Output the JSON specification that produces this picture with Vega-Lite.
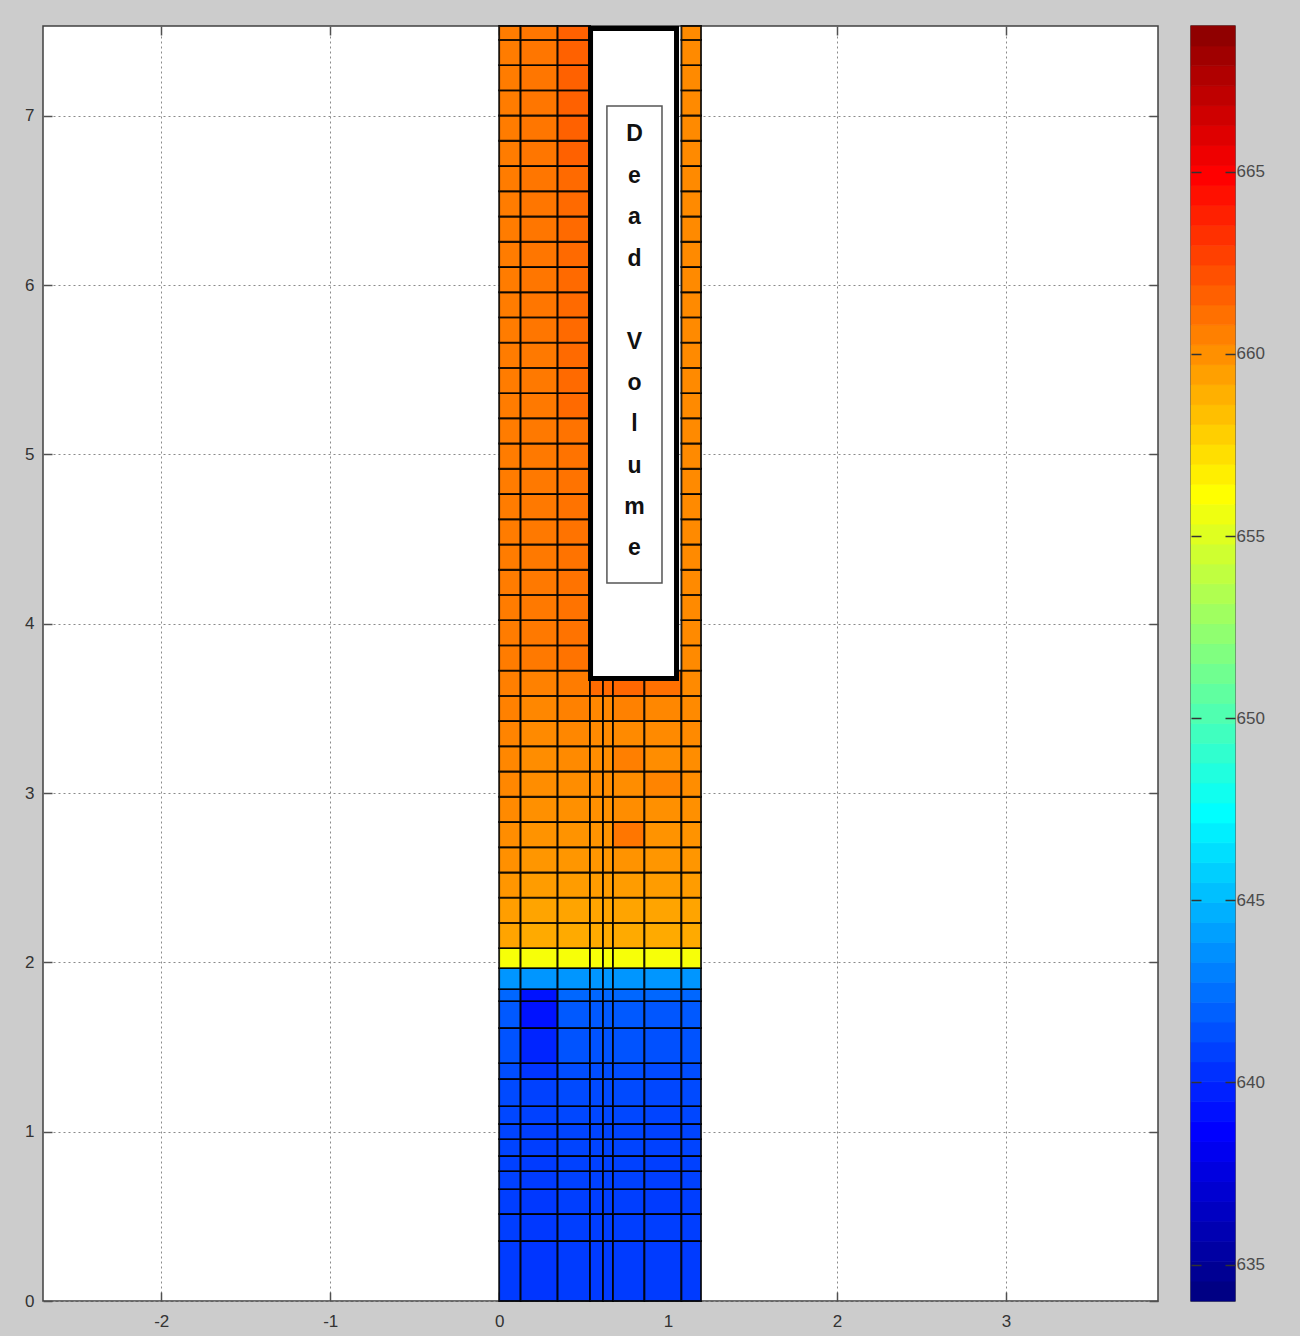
{
  "$schema": "https://vega.github.io/schema/vega-lite/v6.json",
  "background": "#cccccc",
  "padding": {"left": 12, "top": 24, "right": 25, "bottom": 5},
  "spacing": 29,
  "datasets": {
    "cols": [
      {"col": "c0", "x0": 0, "x1": 0.127},
      {"col": "c1", "x0": 0.127, "x1": 0.346},
      {"col": "c2", "x0": 0.346, "x1": 0.538},
      {"col": "c3", "x0": 0.538, "x1": 0.615},
      {"col": "c4", "x0": 0.615, "x1": 0.674},
      {"col": "c5", "x0": 0.674, "x1": 0.86},
      {"col": "c6", "x0": 0.86, "x1": 1.079},
      {"col": "c7", "x0": 1.079, "x1": 1.195}
    ],
    "cells": [
      {"y0": 0, "y1": 0.354, "c0": 640.4, "c1": 640.2, "c2": 640.4, "c3": 640.4, "c4": 640.4, "c5": 640.4, "c6": 640.4, "c7": 640.4},
      {"y0": 0.354, "y1": 0.514, "c0": 640.5, "c1": 640.3, "c2": 640.5, "c3": 640.5, "c4": 640.5, "c5": 640.5, "c6": 640.5, "c7": 640.5},
      {"y0": 0.514, "y1": 0.661, "c0": 640.5, "c1": 640.3, "c2": 640.5, "c3": 640.5, "c4": 640.5, "c5": 640.5, "c6": 640.4, "c7": 640.5},
      {"y0": 0.661, "y1": 0.767, "c0": 640.6, "c1": 640.4, "c2": 640.6, "c3": 640.6, "c4": 640.6, "c5": 640.6, "c6": 640.5, "c7": 640.6},
      {"y0": 0.767, "y1": 0.856, "c0": 640.6, "c1": 640.4, "c2": 640.6, "c3": 640.6, "c4": 640.6, "c5": 640.6, "c6": 640.5, "c7": 640.6},
      {"y0": 0.856, "y1": 0.956, "c0": 640.7, "c1": 640.5, "c2": 640.7, "c3": 640.7, "c4": 640.7, "c5": 640.7, "c6": 640.6, "c7": 640.7},
      {"y0": 0.956, "y1": 1.045, "c0": 640.7, "c1": 640.5, "c2": 640.7, "c3": 640.7, "c4": 640.7, "c5": 640.7, "c6": 640.6, "c7": 640.7},
      {"y0": 1.045, "y1": 1.151, "c0": 640.8, "c1": 640.6, "c2": 640.8, "c3": 640.8, "c4": 640.8, "c5": 640.8, "c6": 640.7, "c7": 640.8},
      {"y0": 1.151, "y1": 1.311, "c0": 640.9, "c1": 640.6, "c2": 640.9, "c3": 640.9, "c4": 640.9, "c5": 640.9, "c6": 640.8, "c7": 640.9},
      {"y0": 1.311, "y1": 1.405, "c0": 641.0, "c1": 640.2, "c2": 641.0, "c3": 641.0, "c4": 641.0, "c5": 641.0, "c6": 640.9, "c7": 641.0},
      {"y0": 1.405, "y1": 1.612, "c0": 641.2, "c1": 639.6, "c2": 641.2, "c3": 641.2, "c4": 641.2, "c5": 641.2, "c6": 641.1, "c7": 641.2},
      {"y0": 1.612, "y1": 1.771, "c0": 641.4, "c1": 639.0, "c2": 641.4, "c3": 641.4, "c4": 641.4, "c5": 641.4, "c6": 641.3, "c7": 641.4},
      {"y0": 1.771, "y1": 1.842, "c0": 641.9, "c1": 639.0, "c2": 641.9, "c3": 641.9, "c4": 641.9, "c5": 641.9, "c6": 641.9, "c7": 641.9},
      {"y0": 1.842, "y1": 1.966, "c0": 643.5, "c1": 643.5, "c2": 643.5, "c3": 643.5, "c4": 643.5, "c5": 643.5, "c6": 643.5, "c7": 643.5},
      {"y0": 1.966, "y1": 2.084, "c0": 655.6, "c1": 655.6, "c2": 655.6, "c3": 655.6, "c4": 655.6, "c5": 655.6, "c6": 655.6, "c7": 655.6},
      {"y0": 2.084, "y1": 2.233, "c0": 659.0, "c1": 658.8, "c2": 658.8, "c3": 658.8, "c4": 658.8, "c5": 658.8, "c6": 658.8, "c7": 658.8},
      {"y0": 2.233, "y1": 2.382, "c0": 659.2, "c1": 659.0, "c2": 659.0, "c3": 659.0, "c4": 659.0, "c5": 659.0, "c6": 659.0, "c7": 659.0},
      {"y0": 2.382, "y1": 2.531, "c0": 659.5, "c1": 659.3, "c2": 659.3, "c3": 659.3, "c4": 659.3, "c5": 659.3, "c6": 659.3, "c7": 659.3},
      {"y0": 2.531, "y1": 2.68, "c0": 659.7, "c1": 659.5, "c2": 659.5, "c3": 659.5, "c4": 659.5, "c5": 659.6, "c6": 659.5, "c7": 659.5},
      {"y0": 2.68, "y1": 2.829, "c0": 659.8, "c1": 659.6, "c2": 659.6, "c3": 659.6, "c4": 659.6, "c5": 660.6, "c6": 659.6, "c7": 659.6},
      {"y0": 2.829, "y1": 2.978, "c0": 659.9, "c1": 659.7, "c2": 659.7, "c3": 659.7, "c4": 659.7, "c5": 659.8, "c6": 659.7, "c7": 659.7},
      {"y0": 2.978, "y1": 3.127, "c0": 660.0, "c1": 659.8, "c2": 659.8, "c3": 659.8, "c4": 659.8, "c5": 659.8, "c6": 660.1, "c7": 659.8},
      {"y0": 3.127, "y1": 3.276, "c0": 660.0, "c1": 659.8, "c2": 659.9, "c3": 659.8, "c4": 659.8, "c5": 660.3, "c6": 659.8, "c7": 659.8},
      {"y0": 3.276, "y1": 3.425, "c0": 660.1, "c1": 659.9, "c2": 660.0, "c3": 659.9, "c4": 659.9, "c5": 659.9, "c6": 659.9, "c7": 659.9},
      {"y0": 3.425, "y1": 3.574, "c0": 660.2, "c1": 660.0, "c2": 660.2, "c3": 660.0, "c4": 660.0, "c5": 660.2, "c6": 660.0, "c7": 659.9},
      {"y0": 3.574, "y1": 3.723, "c0": 660.3, "c1": 660.2, "c2": 660.4, "c3": 661.0, "c4": 661.0, "c5": 661.1, "c6": 660.8, "c7": 659.9},
      {"y0": 3.723, "y1": 3.872, "c0": 660.4, "c1": 660.5, "c2": 660.7, "c7": 659.9},
      {"y0": 3.872, "y1": 4.021, "c0": 660.4, "c1": 660.5, "c2": 660.7, "c7": 659.9},
      {"y0": 4.021, "y1": 4.17, "c0": 660.4, "c1": 660.5, "c2": 660.7, "c7": 659.9},
      {"y0": 4.17, "y1": 4.319, "c0": 660.4, "c1": 660.5, "c2": 660.7, "c7": 659.9},
      {"y0": 4.319, "y1": 4.468, "c0": 660.4, "c1": 660.5, "c2": 660.7, "c7": 659.9},
      {"y0": 4.468, "y1": 4.617, "c0": 660.4, "c1": 660.5, "c2": 660.7, "c7": 659.9},
      {"y0": 4.617, "y1": 4.766, "c0": 660.4, "c1": 660.5, "c2": 660.7, "c7": 659.9},
      {"y0": 4.766, "y1": 4.915, "c0": 660.4, "c1": 660.5, "c2": 660.7, "c7": 659.9},
      {"y0": 4.915, "y1": 5.064, "c0": 660.4, "c1": 660.5, "c2": 660.7, "c7": 659.9},
      {"y0": 5.064, "y1": 5.213, "c0": 660.4, "c1": 660.5, "c2": 660.7, "c7": 659.9},
      {"y0": 5.213, "y1": 5.362, "c0": 660.4, "c1": 660.5, "c2": 661.0, "c7": 659.9},
      {"y0": 5.362, "y1": 5.511, "c0": 660.4, "c1": 660.5, "c2": 661.0, "c7": 659.9},
      {"y0": 5.511, "y1": 5.66, "c0": 660.4, "c1": 660.5, "c2": 661.0, "c7": 659.9},
      {"y0": 5.66, "y1": 5.809, "c0": 660.4, "c1": 660.6, "c2": 661.0, "c7": 659.9},
      {"y0": 5.809, "y1": 5.958, "c0": 660.4, "c1": 660.6, "c2": 661.0, "c7": 659.9},
      {"y0": 5.958, "y1": 6.107, "c0": 660.4, "c1": 660.6, "c2": 661.0, "c7": 659.9},
      {"y0": 6.107, "y1": 6.256, "c0": 660.4, "c1": 660.6, "c2": 661.0, "c7": 659.9},
      {"y0": 6.256, "y1": 6.405, "c0": 660.4, "c1": 660.6, "c2": 661.0, "c7": 659.9},
      {"y0": 6.405, "y1": 6.554, "c0": 660.4, "c1": 660.6, "c2": 661.0, "c7": 659.9},
      {"y0": 6.554, "y1": 6.703, "c0": 660.4, "c1": 660.6, "c2": 661.0, "c7": 659.9},
      {"y0": 6.703, "y1": 6.852, "c0": 660.4, "c1": 660.6, "c2": 661.3, "c7": 659.9},
      {"y0": 6.852, "y1": 7.001, "c0": 660.4, "c1": 660.6, "c2": 661.3, "c7": 659.9},
      {"y0": 7.001, "y1": 7.15, "c0": 660.4, "c1": 660.6, "c2": 661.3, "c7": 659.9},
      {"y0": 7.15, "y1": 7.299, "c0": 660.4, "c1": 660.6, "c2": 661.3, "c7": 659.9},
      {"y0": 7.299, "y1": 7.448, "c0": 660.4, "c1": 660.6, "c2": 661.3, "c7": 659.9},
      {"y0": 7.448, "y1": 7.53, "c0": 660.4, "c1": 660.6, "c2": 661.3, "c7": 659.9}
    ],
    "box": [{"x0": 0.541, "x1": 1.05, "y0": 3.676, "y1": 7.515}],
    "inner": [{"x0": 0.638, "x1": 0.964, "y0": 4.24, "y1": 7.057}],
    "letters": [
      {"t": "D", "x": 0.801, "y": 6.848},
      {"t": "e", "x": 0.801, "y": 6.603},
      {"t": "a", "x": 0.801, "y": 6.359},
      {"t": "d", "x": 0.801, "y": 6.114},
      {"t": "V", "x": 0.801, "y": 5.625},
      {"t": "o", "x": 0.801, "y": 5.381},
      {"t": "l", "x": 0.801, "y": 5.136},
      {"t": "u", "x": 0.801, "y": 4.892},
      {"t": "m", "x": 0.801, "y": 4.647},
      {"t": "e", "x": 0.801, "y": 4.403}
    ],
    "cbar": [
      {"lo": 634.000, "hi": 634.547}, {"lo": 634.547, "hi": 635.094}, {"lo": 635.094, "hi": 635.641}, {"lo": 635.641, "hi": 636.188},
      {"lo": 636.188, "hi": 636.734}, {"lo": 636.734, "hi": 637.281}, {"lo": 637.281, "hi": 637.828}, {"lo": 637.828, "hi": 638.375},
      {"lo": 638.375, "hi": 638.922}, {"lo": 638.922, "hi": 639.469}, {"lo": 639.469, "hi": 640.016}, {"lo": 640.016, "hi": 640.563},
      {"lo": 640.563, "hi": 641.109}, {"lo": 641.109, "hi": 641.656}, {"lo": 641.656, "hi": 642.203}, {"lo": 642.203, "hi": 642.750},
      {"lo": 642.750, "hi": 643.297}, {"lo": 643.297, "hi": 643.844}, {"lo": 643.844, "hi": 644.391}, {"lo": 644.391, "hi": 644.938},
      {"lo": 644.938, "hi": 645.484}, {"lo": 645.484, "hi": 646.031}, {"lo": 646.031, "hi": 646.578}, {"lo": 646.578, "hi": 647.125},
      {"lo": 647.125, "hi": 647.672}, {"lo": 647.672, "hi": 648.219}, {"lo": 648.219, "hi": 648.766}, {"lo": 648.766, "hi": 649.313},
      {"lo": 649.313, "hi": 649.859}, {"lo": 649.859, "hi": 650.406}, {"lo": 650.406, "hi": 650.953}, {"lo": 650.953, "hi": 651.500},
      {"lo": 651.500, "hi": 652.047}, {"lo": 652.047, "hi": 652.594}, {"lo": 652.594, "hi": 653.141}, {"lo": 653.141, "hi": 653.688},
      {"lo": 653.688, "hi": 654.234}, {"lo": 654.234, "hi": 654.781}, {"lo": 654.781, "hi": 655.328}, {"lo": 655.328, "hi": 655.875},
      {"lo": 655.875, "hi": 656.422}, {"lo": 656.422, "hi": 656.969}, {"lo": 656.969, "hi": 657.516}, {"lo": 657.516, "hi": 658.063},
      {"lo": 658.063, "hi": 658.609}, {"lo": 658.609, "hi": 659.156}, {"lo": 659.156, "hi": 659.703}, {"lo": 659.703, "hi": 660.250},
      {"lo": 660.250, "hi": 660.797}, {"lo": 660.797, "hi": 661.344}, {"lo": 661.344, "hi": 661.891}, {"lo": 661.891, "hi": 662.438},
      {"lo": 662.438, "hi": 662.984}, {"lo": 662.984, "hi": 663.531}, {"lo": 663.531, "hi": 664.078}, {"lo": 664.078, "hi": 664.625},
      {"lo": 664.625, "hi": 665.172}, {"lo": 665.172, "hi": 665.719}, {"lo": 665.719, "hi": 666.266}, {"lo": 666.266, "hi": 666.813},
      {"lo": 666.813, "hi": 667.359}, {"lo": 667.359, "hi": 667.906}, {"lo": 667.906, "hi": 668.453}, {"lo": 668.453, "hi": 669.000}
    ]
  },
  "hconcat": [
    {
      "width": 1115,
      "height": 1275,
      "layer": [
        {
          "data": {"name": "cells"},
          "transform": [
            {"fold": ["c0", "c1", "c2", "c3", "c4", "c5", "c6", "c7"], "as": ["col", "v"]},
            {"filter": "isValid(datum.v)"},
            {"lookup": "col", "from": {"data": {"name": "cols"}, "key": "col", "fields": ["x0", "x1"]}}
          ],
          "mark": {"type": "rect", "stroke": "#000000", "strokeWidth": 1.9, "strokeOpacity": 0.85},
          "encoding": {
            "x": {"field": "x0", "type": "quantitative", "scale": {"domain": [-2.7, 3.9], "nice": false, "zero": false},
              "axis": {"orient": "bottom", "values": [-2, -1, 0, 1, 2, 3], "labelExpr": "'' + datum.value", "grid": true, "gridDash": [2, 3], "gridColor": "#8a8a8a", "gridWidth": 1, "tickSize": -9, "labelPadding": 21, "minExtent": 31, "maxExtent": 31, "title": null, "domain": false}},
            "x2": {"field": "x1"},
            "y": {"field": "y0", "type": "quantitative", "scale": {"domain": [0, 7.53], "nice": false, "zero": false},
              "axis": {"orient": "left", "values": [0, 1, 2, 3, 4, 5, 6, 7], "grid": true, "gridDash": [2, 3], "gridColor": "#8a8a8a", "gridWidth": 1, "tickSize": -9, "labelPadding": 18, "minExtent": 30, "maxExtent": 30, "title": null, "domain": false}},
            "y2": {"field": "y1"},
            "color": {"field": "v", "type": "quantitative",
              "scale": {"domain": [634, 638.375, 642.75, 647.125, 651.5, 655.875, 660.25, 664.625, 669], "range": ["#000084", "#0000ff", "#0080ff", "#00ffff", "#80ff80", "#ffff00", "#ff8000", "#ff0000", "#800000"], "interpolate": "rgb"},
              "legend": null}
          }
        },
        {
          "data": {"name": "box"},
          "mark": {"type": "rect", "fill": "#ffffff", "stroke": "#000000", "strokeWidth": 5},
          "encoding": {
            "x": {"field": "x0", "type": "quantitative", "scale": {"domain": [-2.7, 3.9], "nice": false, "zero": false}, "axis": null},
            "x2": {"field": "x1"},
            "y": {"field": "y0", "type": "quantitative", "scale": {"domain": [0, 7.53], "nice": false, "zero": false}, "axis": null},
            "y2": {"field": "y1"}
          }
        },
        {
          "data": {"name": "inner"},
          "mark": {"type": "rect", "fill": "#ffffff", "stroke": "#555555", "strokeWidth": 1.5},
          "encoding": {
            "x": {"field": "x0", "type": "quantitative", "scale": {"domain": [-2.7, 3.9], "nice": false, "zero": false}, "axis": null},
            "x2": {"field": "x1"},
            "y": {"field": "y0", "type": "quantitative", "scale": {"domain": [0, 7.53], "nice": false, "zero": false}, "axis": null},
            "y2": {"field": "y1"}
          }
        },
        {
          "data": {"name": "letters"},
          "mark": {"type": "text", "font": "Liberation Sans", "fontWeight": "bold", "fontSize": 23, "baseline": "alphabetic", "align": "center", "color": "#111111"},
          "encoding": {
            "x": {"field": "x", "type": "quantitative", "scale": {"domain": [-2.7, 3.9], "nice": false, "zero": false},
              "axis": {"orient": "top", "values": [-2, -1, 0, 1, 2, 3], "labels": false, "grid": false, "tickSize": -9, "minExtent": 0, "maxExtent": 0, "title": null, "domain": false}},
            "y": {"field": "y", "type": "quantitative", "scale": {"domain": [0, 7.53], "nice": false, "zero": false},
              "axis": {"orient": "right", "values": [0, 1, 2, 3, 4, 5, 6, 7], "labels": false, "grid": false, "tickSize": -9, "minExtent": 0, "maxExtent": 0, "title": null, "domain": false}},
            "text": {"field": "t"}
          }
        }
      ],
      "resolve": {"axis": {"x": "independent", "y": "independent"}}
    },
    {
      "width": 44,
      "height": 1275,
      "data": {"name": "cbar"},
      "layer": [
        {
          "mark": {"type": "rect", "strokeWidth": 0.8},
          "encoding": {
            "x": {"datum": 0, "type": "quantitative", "scale": {"domain": [0, 1], "nice": false, "zero": false}, "axis": null},
            "x2": {"datum": 1},
            "y": {"field": "lo", "type": "quantitative", "scale": {"domain": [634, 669], "nice": false, "zero": false},
              "axis": {"orient": "left", "values": [635, 640, 645, 650, 655, 660, 665], "labels": false, "grid": false, "tickSize": -10, "minExtent": 0, "maxExtent": 0, "title": null, "domain": false, "tickColor": "#333333", "zindex": 1}},
            "y2": {"field": "hi"},
            "color": {"field": "lo", "type": "quantitative",
              "scale": {"domain": [634, 638.375, 642.75, 647.125, 651.5, 655.875, 660.25, 664.625, 669], "range": ["#000084", "#0000ff", "#0080ff", "#00ffff", "#80ff80", "#ffff00", "#ff8000", "#ff0000", "#800000"], "interpolate": "rgb"},
              "legend": null},
            "stroke": {"field": "lo", "type": "quantitative",
              "scale": {"domain": [634, 638.375, 642.75, 647.125, 651.5, 655.875, 660.25, 664.625, 669], "range": ["#000084", "#0000ff", "#0080ff", "#00ffff", "#80ff80", "#ffff00", "#ff8000", "#ff0000", "#800000"], "interpolate": "rgb"},
              "legend": null}
          }
        },
        {
          "mark": {"type": "rect", "opacity": 0},
          "encoding": {
            "x": {"datum": 0, "type": "quantitative", "scale": {"domain": [0, 1], "nice": false, "zero": false}, "axis": null},
            "x2": {"datum": 1},
            "y": {"field": "lo", "type": "quantitative", "scale": {"domain": [634, 669], "nice": false, "zero": false},
              "axis": {"orient": "right", "values": [635, 640, 645, 650, 655, 660, 665], "labels": true, "grid": false, "tickSize": -10, "labelPadding": 11, "minExtent": 45, "maxExtent": 45, "title": null, "domain": false, "tickColor": "#333333", "labelColor": "#4a4a4a", "zindex": 1}},
            "y2": {"field": "hi"}
          }
        }
      ],
      "resolve": {"axis": {"y": "independent"}}
    }
  ],
  "resolve": {"scale": {"color": "independent", "stroke": "independent"}},
  "config": {
    "view": {"stroke": "#404040", "strokeWidth": 1.5, "fill": "#ffffff"},
    "axis": {"labelFont": "Liberation Sans", "labelFontSize": 17, "labelColor": "#333333", "tickColor": "#505050", "tickWidth": 1.5}
  }
}
